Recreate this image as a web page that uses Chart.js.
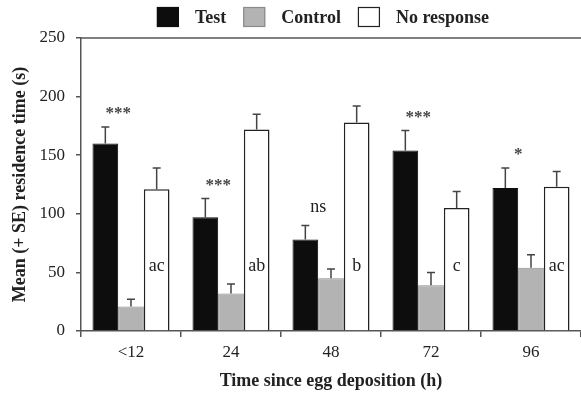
<!DOCTYPE html>
<html>
<head>
<meta charset="utf-8">
<script src="https://cdn.jsdelivr.net/npm/chart.js@4.4.1/dist/chart.umd.min.js"></script>
<style>
  body { margin: 0; background: #fff; }
</style>
</head>
<body>
<canvas id="residence-chart" width="581" height="395"></canvas>
<script>
Chart.defaults.font.family = '"Liberation Serif", "DejaVu Serif", serif';
Chart.defaults.color = '#222';

const categories = ['<12', '24', '48', '72', '96'];
const testValues = [160, 97, 78, 154, 122];
const testErrors = [14, 16, 12, 17, 17];
const controlValues = [21, 32, 45, 39, 54];
const controlErrors = [6, 8, 8, 11, 11];
const noResponseValues = [121, 172, 178, 105, 123];
const noResponseErrors = [18, 13, 14, 14, 13];
const significance = ['***', '***', 'ns', '***', '*'];
const groupLetters = ['ac', 'ab', 'b', 'c', 'ac'];
const letterLevel = 55;
const yMax = 250;

// error bars, significance marks, letters, top frame line and the legend
const extras = {
  id: 'extras',
  afterDatasetsDraw(chart) {
    const ctx = chart.ctx;
    const y = chart.scales.y;
    const area = chart.chartArea;
    ctx.save();
    ctx.strokeStyle = '#444';
    ctx.lineWidth = 1.5;
    chart.data.datasets.forEach((ds, i) => {
      chart.getDatasetMeta(i).data.forEach((bar, j) => {
        const top = y.getPixelForValue(ds.data[j] + ds.errors[j]);
        ctx.beginPath();
        ctx.moveTo(bar.x, bar.y);
        ctx.lineTo(bar.x, top);
        ctx.moveTo(bar.x - 4, top);
        ctx.lineTo(bar.x + 4, top);
        ctx.stroke();
      });
    });

    const testBars = chart.getDatasetMeta(0).data;
    const ctrlBars = chart.getDatasetMeta(1).data;
    const nrBars = chart.getDatasetMeta(2).data;
    ctx.textAlign = 'center';
    ctx.textBaseline = 'middle';
    significance.forEach((s, j) => {
      const x = (testBars[j].x + ctrlBars[j].x) / 2;
      const top = y.getPixelForValue(testValues[j] + testErrors[j]);
      if (s === 'ns') {
        ctx.font = '18px "Liberation Serif"';
        ctx.fillStyle = '#222';
        ctx.fillText(s, x, top - 18);
      } else {
        ctx.font = 'bold 17px "Liberation Serif"';
        ctx.fillStyle = '#444';
        ctx.fillText(s, x, top - 13);
      }
    });
    ctx.font = '18px "Liberation Serif"';
    ctx.fillStyle = '#222';
    groupLetters.forEach((l, j) => {
      ctx.fillText(l, nrBars[j].x, y.getPixelForValue(letterLevel));
    });

    // top frame line
    ctx.beginPath();
    ctx.strokeStyle = '#555';
    ctx.moveTo(area.left, area.top);
    ctx.lineTo(chart.width, area.top);
    ctx.stroke();

    // legend
    ctx.font = 'bold 18px "Liberation Serif"';
    ctx.textAlign = 'left';
    const box = 22, boxGap = 16, itemGap = 17;
    const items = chart.data.datasets.map(ds => ({
      ds: ds,
      w: box + boxGap + ctx.measureText(ds.label).width
    }));
    const total = items.reduce((a, it) => a + it.w, 0) + itemGap * (items.length - 1);
    let x = (area.left + area.right) / 2 - 8 - total / 2;
    items.forEach(it => {
      ctx.fillStyle = it.ds.backgroundColor;
      ctx.fillRect(x, 7, box, box - 2);
      ctx.lineWidth = 1.2;
      ctx.strokeStyle = it.ds.borderColor;
      ctx.strokeRect(x + 0.5, 7.5, box - 1, box - 3);
      ctx.fillStyle = '#222';
      ctx.fillText(it.ds.label, x + box + boxGap, 18);
      x += it.w + itemGap;
    });
    ctx.restore();
  }
};

const config = {
  type: 'bar',
  data: {
    labels: categories,
    datasets: [
      {
        label: 'Test',
        data: testValues,
        errors: testErrors,
        backgroundColor: '#0d0d0d',
        borderColor: '#0d0d0d',
        borderWidth: 1,
      },
      {
        label: 'Control',
        data: controlValues,
        errors: controlErrors,
        backgroundColor: '#b3b3b3',
        borderColor: '#8a8a8a',
        borderWidth: 1,
      },
      {
        label: 'No response',
        data: noResponseValues,
        errors: noResponseErrors,
        backgroundColor: '#ffffff',
        borderColor: '#222',
        borderWidth: 1.5,
      },
    ],
  },
  options: {
    responsive: false,
    animation: false,
    layout: { padding: { top: 38, right: -5, bottom: 0, left: 0 } },
    datasets: {
      bar: { categoryPercentage: 0.77, barPercentage: 1 },
    },
    plugins: {
      legend: { display: false },
      tooltip: { enabled: false },
    },
    scales: {
      x: {
        grid: { drawOnChartArea: false, tickLength: 6, color: '#555', lineWidth: 1.5 },
        border: { color: '#555', width: 1.5 },
        ticks: { font: { size: 17 }, color: '#222', padding: 5 },
        title: {
          display: true,
          text: 'Time since egg deposition (h)',
          font: { size: 18, weight: 'bold' },
          color: '#222',
          padding: { top: 0, bottom: 3 },
        },
        afterFit(scale) { scale.height = 64; },
      },
      y: {
        min: 0,
        max: yMax,
        grid: { drawOnChartArea: false, tickLength: 5, color: '#555', lineWidth: 1.5 },
        border: { color: '#555', width: 1.5 },
        ticks: { stepSize: 50, font: { size: 17 }, color: '#222', padding: 11 },
        title: {
          display: true,
          text: 'Mean (+ SE) residence time (s)',
          font: { size: 18, weight: 'bold' },
          color: '#222',
          padding: { top: 10, bottom: 0 },
        },
        afterFit(scale) { scale.width = 81; },
      },
    },
  },
  plugins: [extras],
};

const myChart = new Chart(document.getElementById('residence-chart'), config);
</script>
</body>
</html>
